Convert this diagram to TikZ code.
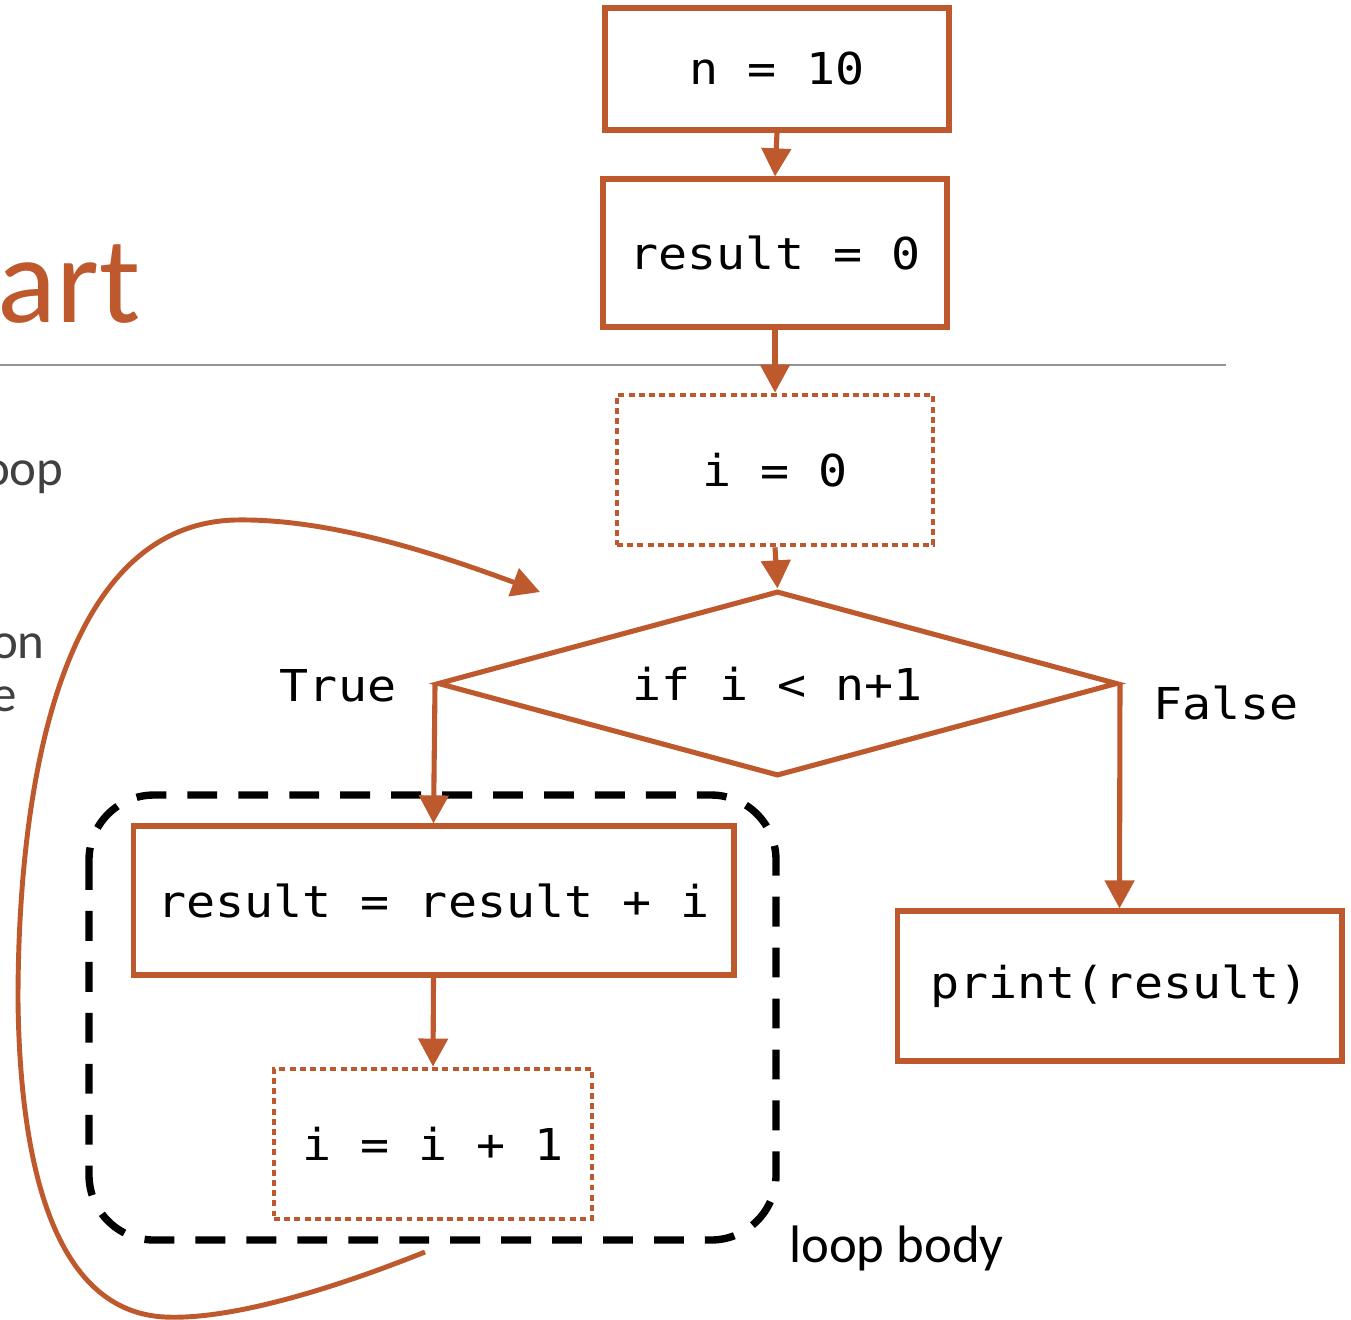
\documentclass[tikz,border=0pt]{standalone}
\usepackage{fontspec}
\setmainfont{Carlito}
\newfontfamily\codefont[FakeStretch=1.1]{DejaVu Sans Mono}
\usetikzlibrary{shapes.geometric,arrows.meta}
\definecolor{rust}{RGB}{190,88,45}
\definecolor{note}{RGB}{64,64,64}
\tikzset{
  code/.style={font=\codefont\fontsize{25}{30}\selectfont, text=black},
  proc/.style={code, draw=rust, line width=2.9pt, inner sep=0pt},
  dotbox/.style={proc, line width=2.7pt, dash pattern=on 3.4pt off 2.4pt},
  decision/.style={code, draw=rust, line width=2.9pt, diamond, aspect=3.676, inner sep=0pt},
  flow/.style={draw=rust, line width=2.9pt, -{Triangle[length=16pt,width=16.5pt]}},
  bodyframe/.style={draw=black, line width=4.2pt, dash pattern=on 17pt off 12pt, rounded corners=1.3cm},
  aside/.style={font=\fontsize{29}{35}\selectfont, text=note}
}
\begin{document}
\begin{tikzpicture}[x=0.02cm, y=-0.02cm]
\useasboundingbox (0,0) rectangle (1351,1319);

% heading fragment and rule
\node[anchor=base east, font=\fontsize{70}{80}\selectfont, text=rust, inner sep=0pt] (title) at (141,322) {art};
\draw[draw=black!42, line width=0.9pt] (0,365) -- (1226,365);

% side notes
\node[aside, anchor=base east, inner sep=0pt] (n1) at (64,485) {oop};
\node[aside, anchor=base east, inner sep=0pt] (n2) at (45,658) {on};
\node[aside, anchor=base east, inner sep=0pt] (n3) at (17,711) {e};

% flow steps
\node[proc, minimum width=6.88cm, minimum height=2.44cm] (n10) at (777,69) {n = 10};
\node[proc, minimum width=6.88cm, minimum height=2.96cm] (r0) at (775,253) {result = 0};
\node[dotbox, minimum width=6.32cm, minimum height=3.0cm] (i0) at (775,470) {i = 0};
\node[decision, minimum width=13.6cm, minimum height=3.7cm] (cond) at (777.5,683.5) {if i < n+1};
\node[proc, minimum width=12.02cm, minimum height=2.98cm] (body) at (433.5,900.5) {result = result + i};
\node[dotbox, minimum width=6.36cm, minimum height=3.0cm] (inc) at (433,1144) {i = i + 1};
\node[proc, minimum width=8.9cm, minimum height=3.0cm] (out) at (1119.5,986) {print(result)};

% branch labels
\node[code] (tlabel) at (338,686) {True};
\node[code] (flabel) at (1226,703) {False};

% loop body frame
\draw[bodyframe] (89,795) rectangle (776,1240);
\node[anchor=base west, font=\fontsize{30}{36}\selectfont, inner sep=0pt] (bodylabel) at (789,1262) {loop body};

% connectors
\draw[flow] (n10.south) -- (r0.north);
\draw[flow] (r0.south) -- (i0.north);
\draw[flow] (i0.south) -- (cond.north);
\draw[flow] (cond.west) -- (body.north);
\draw[flow] (cond.east) -- (out.north);
\draw[flow] (body.south) -- (inc.north);

% return path of the loop
\coordinate (back) at (425,1252);
\coordinate (reentry) at (540,592);
\draw[flow, line width=2.8pt] (back)
  .. controls (330,1290) and (230,1320) .. (165,1317)
  .. controls (60,1312) and (20,1180) .. (18,1000)
  .. controls (18,800) and (55,525) .. (235,520)
  .. controls (330,518) and (440,555) .. (reentry);
\end{tikzpicture}
\end{document}
